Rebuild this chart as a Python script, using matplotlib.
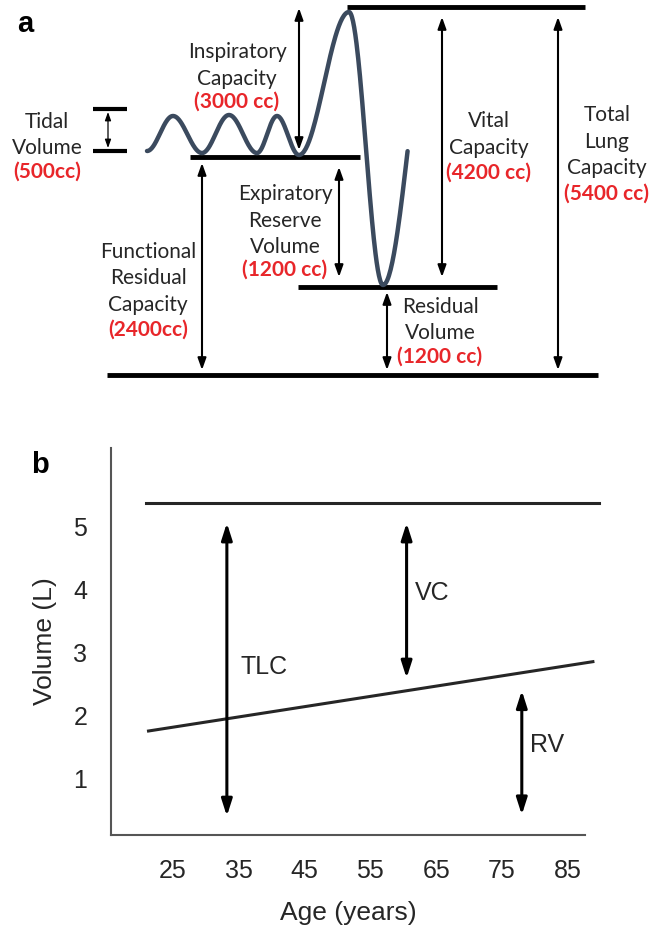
import numpy as np
import matplotlib
matplotlib.use('Agg')
from matplotlib import pyplot as plt

# ---- panel a: lung volume labels ----
tv_words = ["Tidal", "Volume"]
tv_cc = "(500cc)"
ic_words = ["Inspiratory", "Capacity"]
ic_cc = "(3000 cc)"
vc_words = ["Vital", "Capacity"]
vc_cc = "(4200 cc)"
tlc_words = ["Total", "Lung", "Capacity"]
tlc_cc = "(5400 cc)"
erv_words = ["Expiratory", "Reserve", "Volume"]
erv_cc = "(1200 cc)"
frc_words = ["Functional", "Residual", "Capacity"]
frc_cc = "(2400cc)"
rv_words = ["Residual", "Volume"]
rv_cc = "(1200 cc)"

# spirogram turning points (diagram units, y down)
trace_x = [147, 173, 202, 229, 257, 277, 299, 349, 383, 433]
trace_y = [151, 116, 153, 115, 153, 116, 155, 12, 285, 10]
trace_end = 408

# ---- panel b: volume vs age ----
age_ticks = [25, 35, 45, 55, 65, 75, 85]
vol_ticks = [1, 2, 3, 4, 5]
tlc_age = [20.9, 89.8]
tlc_vol = [5.38, 5.38]
rv_age = [21.3, 88.8]
rv_vol = [1.76, 2.86]
arrow_age = [33.2, 60.5, 78.0]
arrow_lo = [0.41, 2.60, 0.43]
arrow_hi = [5.06, 5.06, 2.40]
arrow_lab = ["TLC", "VC", "RV"]
lab_pos = [(35.2, 2.78), (61.8, 3.95), (79.2, 1.53)]

RED = '#e8262a'
INK = '#262626'
TRACE = '#3b4a5e'
FA = ['Lato', 'DejaVu Sans']
FB = ['Liberation Sans', 'DejaVu Sans']

fig = plt.figure(figsize=(6.6, 9.25), dpi=100)

axa = fig.add_axes([0, 1 - 400 / 925, 1, 400 / 925])
axa.set_xlim(0, 660)
axa.set_ylim(400, 0)
axa.axis('off')

# trace: half-cosine between turning points
xs, ys = [], []
for i in range(len(trace_x) - 1):
    t = np.linspace(0, 1, 60)
    x = trace_x[i] + (trace_x[i + 1] - trace_x[i]) * t
    y = trace_y[i] + (trace_y[i + 1] - trace_y[i]) * (1 - np.cos(np.pi * t)) / 2
    xs.append(x)
    ys.append(y)
xs = np.concatenate(xs)
ys = np.concatenate(ys)
keep = xs <= trace_end
axa.plot(xs[keep], ys[keep], color=TRACE, lw=3.2, solid_capstyle='round', zorder=3)

# level bars
bars = [(93, 127, 109, 3.0), (93, 127, 151, 3.0), (347, 585, 7, 3.5),
        (190, 360, 157, 3.5), (298, 497, 287, 3.5), (107, 598, 375, 3.5)]
for x0, x1, y, lw in bars:
    axa.plot([x0, x1], [y, y], color='black', lw=lw, solid_capstyle='butt')

def darrow(ax, x, y0, y1, lw, hl, hw, color='black'):
    ax.annotate('', xy=(x, y1), xytext=(x, y0),
                arrowprops=dict(arrowstyle='<|-|>,head_length=%g,head_width=%g' % (hl, hw),
                                color=color, lw=lw, shrinkA=0, shrinkB=0,
                                mutation_scale=10))

darrow(axa, 108, 112, 148, 0.9, 0.5, 0.18)
darrow(axa, 299, 8, 150, 1.5, 0.7, 0.25)
darrow(axa, 442, 17, 277, 1.5, 0.7, 0.25)
darrow(axa, 558, 17, 370, 1.5, 0.7, 0.25)
darrow(axa, 202, 163, 370, 1.5, 0.7, 0.25)
darrow(axa, 339, 167, 277, 1.5, 0.7, 0.25)
darrow(axa, 387, 292, 370, 1.5, 0.7, 0.25)

def label(ax, words, cc, x, ys_, fs=15):
    for w, y in zip(words, ys_[:-1]):
        ax.text(x, y, w, ha='center', va='center', fontsize=fs, color=INK, family=FA)
    ax.text(x, ys_[-1], cc, ha='center', va='center', fontsize=fs, color=RED,
            family=FA, fontweight='bold')

label(axa, tv_words, tv_cc, 47, [122, 148, 172])
label(axa, ic_words, ic_cc, 237, [52, 79, 102])
label(axa, vc_words, vc_cc, 489, [121, 148, 173])
label(axa, tlc_words, tlc_cc, 607, [115, 142, 168, 194])
label(axa, erv_words, erv_cc, 285, [194, 221, 247, 270])
label(axa, frc_words, frc_cc, 148, [252, 278, 305, 330])
label(axa, rv_words, rv_cc, 440, [307, 333, 357])

fig.text(25 / 660, 1 - 24 / 925, 'a', ha='center', va='center', fontsize=21,
         fontweight='bold', family=FB)

# ---- panel b ----
axb = fig.add_axes([111 / 660, 1 - 835 / 925, (585 - 111) / 660, (835 - 448) / 925])
axb.set_xlim(15.6, 87.6)
axb.set_ylim(0.11, 6.25)
for s in ['top', 'right']:
    axb.spines[s].set_visible(False)
for s in ['left', 'bottom']:
    axb.spines[s].set_color('#555555')
    axb.spines[s].set_linewidth(1.5)
axb.set_xticks(age_ticks)
axb.set_yticks(vol_ticks)
axb.tick_params(length=0, labelsize=18, colors=INK)
axb.tick_params(axis='x', pad=17)
axb.tick_params(axis='y', pad=17)
for t in axb.get_xticklabels() + axb.get_yticklabels():
    t.set_family(FB)
axb.set_xlabel('Age (years)', fontsize=19, family=FB, color=INK, labelpad=13)
axb.set_ylabel('Volume (L)', fontsize=19, family=FB, color=INK, labelpad=12)

axb.plot(tlc_age, tlc_vol, color=INK, lw=2.2, clip_on=False)
axb.plot(rv_age, rv_vol, color=INK, lw=2.2, clip_on=False)
for a, lo, hi in zip(arrow_age, arrow_lo, arrow_hi):
    darrow(axb, a, lo, hi, 2.2, 1.0, 0.32, color='black')
for (px, py), lab in zip(lab_pos, arrow_lab):
    axb.text(px, py, lab, ha='left', va='center', fontsize=18, family=FB, color=INK)

fig.text(40 / 660, 1 - 465 / 925, 'b', ha='center', va='center', fontsize=21,
         fontweight='bold', family=FB)

fig.savefig('out.png', dpi=100)
